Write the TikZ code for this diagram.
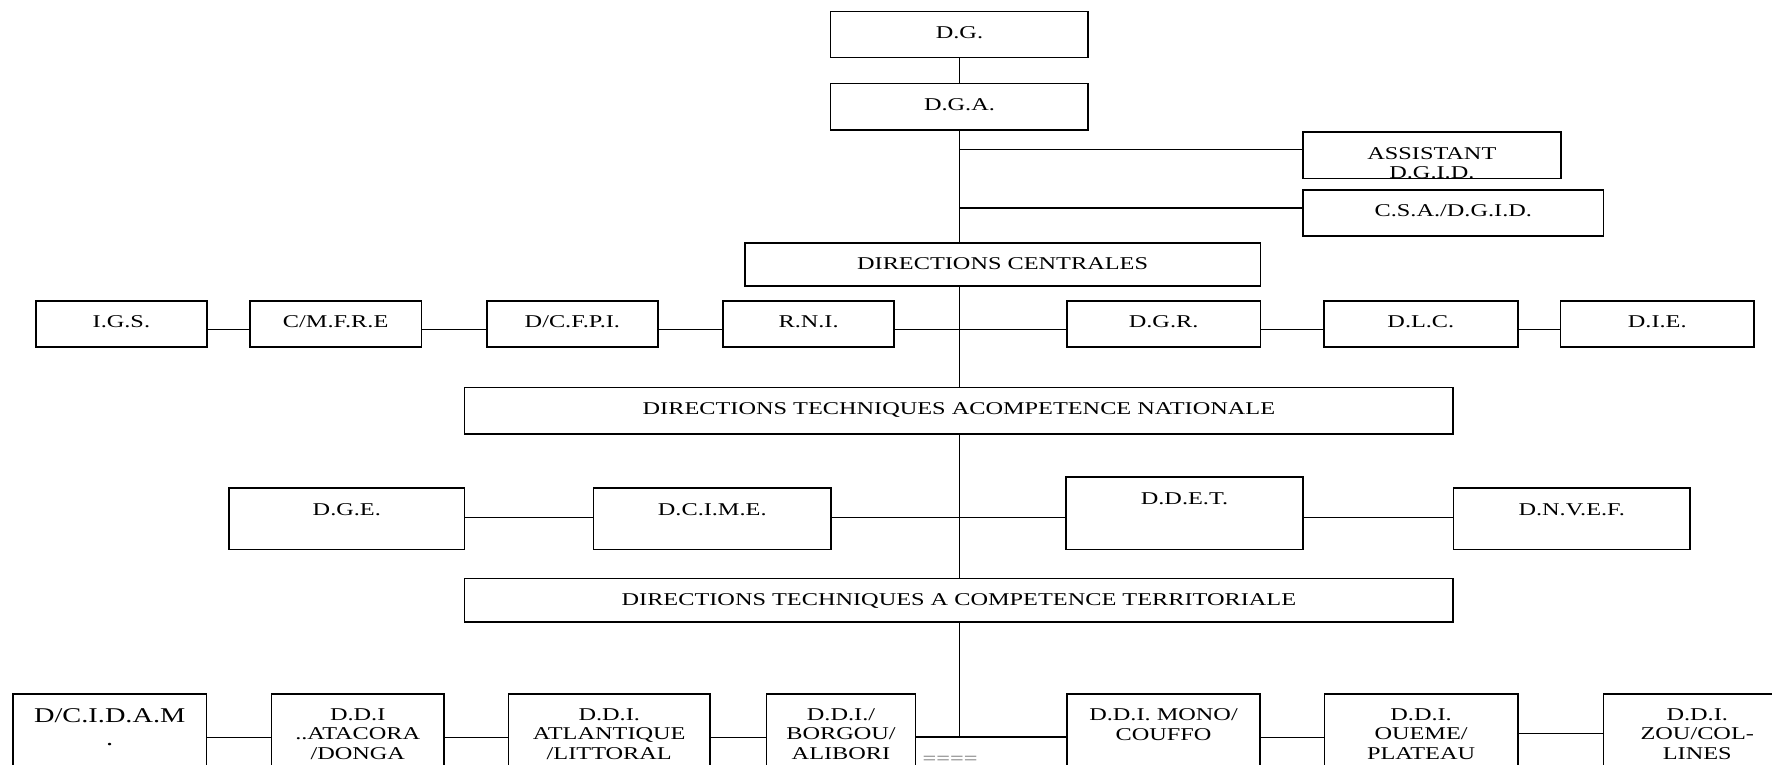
\documentclass[tikz,border=0pt]{standalone}
\usepackage{fontspec}
\setmainfont[FakeStretch=1.35]{Liberation Serif}
\usetikzlibrary{calc}
\tikzset{
  obox/.style={draw=black, line width=1.7pt, inner sep=0pt, outer sep=0pt, rectangle},
  otext/.style={inner sep=0pt, align=center, font=\fontsize{18}{19.4}\selectfont, text=black},
  bigtext/.style={otext, font=\fontsize{21}{22.7}\selectfont},
  conn/.style={draw=black, line width=1.3pt},
}
\newcommand{\mkbox}[6]{%
  \node[obox, minimum width={#4-#2}, minimum height={#5-#3}] (#1) at ({(#2+#4)/2},{(#3+#5)/2}) {};
  \node[otext, anchor=north] (#1-t) at ([yshift=-14.8pt]#1.north) {#6};}
\begin{document}
\begin{tikzpicture}[x=1pt, y=-1pt]
\useasboundingbox (0,0) rectangle (1772,765);
\fill[white] (0,0) rectangle (1772,765);
\clip (0,0) rectangle (1772,765);
% top
\mkbox{dg}{830.6}{11.5}{1088.3}{57.5}{D.G.}
\mkbox{dga}{830.6}{83.6}{1088.3}{130}{D.G.A.}
\mkbox{asst}{1303}{132.2}{1560.7}{178.6}{ASSISTANT\\D.G.I.D.}
\mkbox{csa}{1303}{189.9}{1603.6}{236.2}{C.S.A./D.G.I.D.}
\mkbox{dc}{744.7}{243}{1260.5}{286}{DIRECTIONS CENTRALES}
% row 2
\mkbox{igs}{36}{300.7}{206.8}{347.3}{I.G.S.}
\mkbox{cmfre}{249.8}{300.7}{421.5}{347.3}{C/M.F.R.E}
\mkbox{dcfpi}{487}{300.7}{657.7}{347.3}{D/C.F.P.I.}
\mkbox{rni}{723.3}{300.7}{893.9}{347.3}{R.N.I.}
\mkbox{dgr}{1066.7}{300.7}{1260.5}{347.3}{D.G.R.}
\mkbox{dlc}{1324}{300.7}{1517.7}{347.3}{D.L.C.}
\mkbox{die}{1560.5}{300.7}{1754}{347.3}{D.I.E.}
\mkbox{dtn}{464.5}{387.5}{1453.3}{434}{DIRECTIONS TECHNIQUES ACOMPETENCE NATIONALE}
% row 3
\mkbox{dge}{229}{488.3}{464.6}{549.5}{D.G.E.}
\mkbox{dcime}{593.5}{488.3}{831}{549.5}{D.C.I.M.E.}
\mkbox{ddet}{1066}{477.3}{1303}{549.5}{D.D.E.T.}
\mkbox{dnvef}{1453.4}{488.3}{1690}{549.5}{D.N.V.E.F.}
\mkbox{dtt}{464.5}{578.5}{1453.3}{622}{DIRECTIONS TECHNIQUES A COMPETENCE TERRITORIALE}
% bottom row
\node[obox, minimum width={206.5-13}, minimum height={820-693.7}] (dcidam) at ({(13+206.5)/2},{(693.7+820)/2}) {};
\node[bigtext, anchor=north] (dcidam-t) at ([yshift=-14.6pt]dcidam.north) {D/C.I.D.A.M\\.};
\mkbox{atacora}{271.5}{693.7}{444}{820}{D.D.I\\..ATACORA\\/DONGA}
\mkbox{atlant}{508.5}{693.7}{710}{820}{D.D.I.\\ATLANTIQUE\\/LITTORAL}
\mkbox{borgou}{766.5}{693.7}{915.5}{820}{D.D.I./\\BORGOU/\\ALIBORI}
\node[obox, minimum width={1066.8-915.5}, minimum height={820-737.3}] (empty) at ({(915.5+1066.8)/2},{(737.3+820)/2}) {};
\node[otext, anchor=base west, text=black!55] (empty-t) at ([xshift=7pt, yshift=-26.7pt]empty.north west) {====};
\mkbox{mono}{1066.8}{693.7}{1260.3}{820}{D.D.I. MONO/\\COUFFO}
\mkbox{oueme}{1324.5}{693.7}{1517.7}{820}{D.D.I.\\OUEME/\\PLATEAU}
\mkbox{zou}{1603.5}{693.7}{1791}{820}{D.D.I.\\ZOU/COL-\\LINES}
% trunk
\draw[conn] (dg.south) -- (dga.north);
\draw[conn] (dga.south) -- (dga.south |- dc.north);
\draw[conn] (dg.south |- dc.south) -- (dg.south |- dtn.north);
\draw[conn] (dg.south |- dtn.south) -- (dg.south |- dtt.north);
\draw[conn] (dg.south |- dtt.south) -- (dg.south |- empty.north);
% branches to assistant and csa
\coordinate (ba) at (959.5,149.2);
\coordinate (bc) at (959.5,208);
\draw[conn] (ba) -- (ba -| asst.west);
\draw[conn] (bc) -- (bc -| csa.west);
% row 2 connectors
\coordinate (r2) at (959.5,329.3);
\draw[conn] (igs.east |- r2) -- (cmfre.west |- r2);
\draw[conn] (cmfre.east |- r2) -- (dcfpi.west |- r2);
\draw[conn] (dcfpi.east |- r2) -- (rni.west |- r2);
\draw[conn] (rni.east |- r2) -- (dgr.west |- r2);
\draw[conn] (dgr.east |- r2) -- (dlc.west |- r2);
\draw[conn] (dlc.east |- r2) -- (die.west |- r2);
% row 3 connectors
\coordinate (r3) at (959.5,517.7);
\draw[conn] (dge.east |- r3) -- (dcime.west |- r3);
\draw[conn] (dcime.east |- r3) -- (ddet.west |- r3);
\draw[conn] (ddet.east |- r3) -- (dnvef.west |- r3);
% bottom connectors
\coordinate (r4) at (959.5,737.3);
\coordinate (r5) at (959.5,733.5);
\draw[conn] (dcidam.east |- r4) -- (atacora.west |- r4);
\draw[conn] (atacora.east |- r4) -- (atlant.west |- r4);
\draw[conn] (atlant.east |- r4) -- (borgou.west |- r4);
\draw[conn] (mono.east |- r4) -- (oueme.west |- r4);
\draw[conn] (oueme.east |- r5) -- (zou.west |- r5);
\end{tikzpicture}
\end{document}
